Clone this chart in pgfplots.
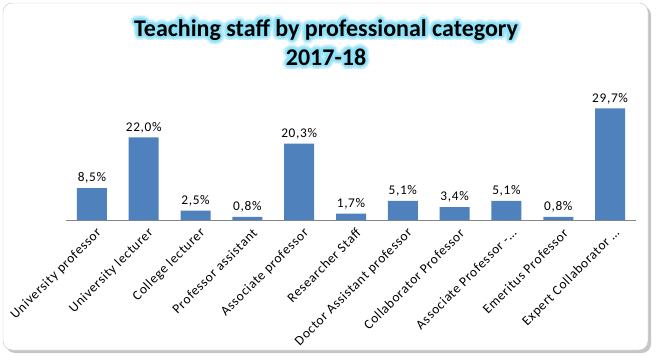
\documentclass[border=0pt]{standalone}
\usepackage{fontspec}
\setmainfont{Carlito}
\newfontfamily\tickfont[LetterSpace=5]{Carlito}
\usepackage{pgfplots}
\pgfplotsset{compat=1.18}
\usepackage{pgfplotstable}
\usetikzlibrary{shadows}
\definecolor{barblue}{HTML}{4F81BD}
\definecolor{glow}{HTML}{8EE2F8}
\definecolor{axgray}{HTML}{868686}

\pgfplotstableread{
x y lab
0 8.5 8,5
1 22.0 22,0
2 2.5 2,5
3 0.8 0,8
4 20.3 20,3
5 1.7 1,7
6 5.1 5,1
7 3.4 3,4
8 5.1 5,1
9 0.8 0,8
10 29.7 29,7
}\data

\newcommand\titlefont{\fontsize{24bp}{28bp}\selectfont\bfseries}
\newcommand\glowtext[2]{%
  \foreach \a in {0,20,...,340}{%
    \node[text=glow, opacity=0.22, font=\titlefont] at ([shift={(\a:4.5bp)}]#1) {#2};
    \node[text=glow, opacity=0.5, font=\titlefont] at ([shift={(\a:2.2bp)}]#1) {#2};
  }%
  \node[text=black, font=\titlefont] at (#1) {#2};
}

\begin{document}
\begin{tikzpicture}
\path[use as bounding box] (-66bp,-140bp) rectangle (593bp,220bp);
\draw[rounded corners=9bp, draw=gray!45, fill=white,
  drop shadow={shadow xshift=3bp, shadow yshift=-3bp, opacity=0.45, fill=gray}]
  (-63bp,-130bp) rectangle (582bp,217bp);
\glowtext{260bp,190bp}{Teaching staff by professional category}
\glowtext{260bp,163bp}{2017-18}
\begin{axis}[
  at={(0,0)}, anchor=south west,
  scale only axis,
  width=570bp, height=112.8bp,
  xmin=-0.5, xmax=10.5, ymin=0, ymax=30,
  clip=false,
  axis x line*=bottom,
  axis y line=none,
  x axis line style={draw=axgray, thick},
  ybar, bar width=30bp,
  xtick=data,
  major tick length=0pt,
  xticklabels={University professor, University lecturer, College lecturer, Professor assistant, Associate professor, Researcher Staff, Doctor Assistant professor, Collaborator Professor, Associate Professor -…, Emeritus Professor, Expert Collaborator …},
  xticklabel style={rotate=45, anchor=east, yshift=-13bp, xshift=1bp, font=\tickfont\fontsize{13.5bp}{16bp}\selectfont, text=black},
  point meta=explicit symbolic,
  nodes near coords={\pgfplotspointmeta\%},
  nodes near coords style={font=\tickfont\fontsize{13.3bp}{16bp}\selectfont, text=black, yshift=1bp},
]
\addplot[fill=barblue, draw=none] table[x=x, y=y, meta=lab] {\data};
\end{axis}
\end{tikzpicture}
\end{document}
